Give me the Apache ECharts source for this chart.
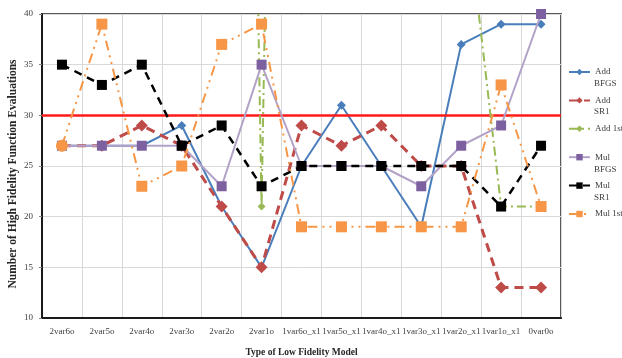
<!DOCTYPE html>
<html><head><meta charset="utf-8">
<script src="https://cdn.jsdelivr.net/npm/echarts@6/dist/echarts.min.js"></script>
<style>html,body{margin:0;padding:0;background:#fff}#c{width:622px;height:358px}</style>
</head><body><div id="c"></div>
<script>
const categories = ['2var6o','2var5o','2var4o','2var3o','2var2o','2var1o','1var6o_x1','1var5o_x1','1var4o_x1','1var3o_x1','1var2o_x1','1var1o_x1','0var0o'];
const addBFGS = [27,27,27,29,21,15,25,31,25,19,37,39,39];
const addSR1  = [27,27,29,27,21,15,29,27,29,25,25,13,13];
const add1st  = [60,60,60,60,250,21,250,60,60,60,55,21,21];
const mulBFGS = [27,27,27,27,23,35,25,25,25,23,27,29,40];
const mulSR1  = [35,33,35,27,29,23,25,25,25,25,25,21,27];
const mul1st  = [27,39,23,25,37,39,19,19,19,19,19,33,21];
const threshold = 30;
const yTicks = {min:10, max:40, interval:5};

const FONT = 'Liberation Serif';
const legendFirst = {'Add BFGS':'Add','Add SR1':'Add','Add 1st':'Add 1st','Mul BFGS':'Mul','Mul SR1':'Mul','Mul 1st':'Mul 1st'};
const T = (text, left, top) => ({type:'text',left,top,style:{text,fontFamily:FONT,fontSize:9,fill:'#404040'}});

const chart = echarts.init(document.getElementById('c'), null, {renderer:'canvas'});
chart.setOption({
  animation:false,
  grid:{left:42,right:61,top:14,bottom:40,show:true,borderColor:'#595959',borderWidth:2,backgroundColor:'transparent',containLabel:false,outerBoundsMode:'none'},
  legend:{
    orient:'vertical', left:568, top:66.5, padding:0, itemWidth:21, itemHeight:8, itemGap:17.4,
    textStyle:{fontFamily:FONT,fontSize:9,lineHeight:11,color:'#404040',overflow:'none'},
    formatter:n=>legendFirst[n],
    data:['Add BFGS','Add SR1','Add 1st','Mul BFGS','Mul SR1','Mul 1st']
  },
  graphic:[
    T('BFGS',594,79.5), T('SR1',594,107.5), T('BFGS',594,165.5), T('SR1',594,193.5),
    {type:'text',x:13,y:174,rotation:Math.PI/2,
     style:{text:'Number of High Fidelity Function Evaluations',fontFamily:FONT,fontSize:11.5,fontWeight:'bold',fill:'#262626',align:'center',verticalAlign:'middle'}}
  ],
  xAxis:{
    type:'category', data:categories, boundaryGap:true,
    name:'Type of Low Fidelity Model', nameLocation:'middle', nameGap:30,
    nameTextStyle:{fontFamily:FONT,fontSize:9.5,fontWeight:'bold',color:'#262626'},
    axisLine:{lineStyle:{color:'#1a1a1a',width:2}},
    axisTick:{show:false},
    axisLabel:{fontFamily:FONT,fontSize:9,color:'#404040',margin:9,interval:0},
    splitLine:{show:true,interval:0,lineStyle:{color:'#d9d9d9',width:1}}
  },
  yAxis:{
    type:'value', min:yTicks.min, max:yTicks.max, interval:yTicks.interval,
    axisLine:{show:true,lineStyle:{color:'#1a1a1a',width:2}},
    axisTick:{show:true,length:3,lineStyle:{color:'#808080'}},
    axisLabel:{fontFamily:FONT,fontSize:9,color:'#404040',margin:9},
    splitLine:{show:true,lineStyle:{color:'#d9d9d9',width:1}}
  },
  series:[
    {name:'Add BFGS',type:'line',data:addBFGS,symbol:'diamond',symbolSize:9,z:3,
     itemStyle:{color:'#4a7ebb'},lineStyle:{color:'#4a7ebb',width:2},
     markLine:{silent:true,symbol:'none',label:{show:false},lineStyle:{color:'#ff1a1a',width:2.5,type:'solid'},data:[{yAxis:threshold}]}},
    {name:'Add SR1',type:'line',data:addSR1,symbol:'diamond',symbolSize:12,z:4,
     itemStyle:{color:'#be4b48'},lineStyle:{color:'#be4b48',width:3,type:[9,6]}},
    {name:'Add 1st',type:'line',data:add1st,symbol:'diamond',symbolSize:8,z:5,
     itemStyle:{color:'#98b954'},lineStyle:{color:'#98b954',width:2,type:[9,4,2,4]}},
    {name:'Mul BFGS',type:'line',data:mulBFGS,symbol:'rect',symbolSize:10,z:6,
     itemStyle:{color:'#7d60a0'},lineStyle:{color:'#b3a2c7',width:2}},
    {name:'Mul SR1',type:'line',data:mulSR1,symbol:'rect',symbolSize:10,z:7,
     itemStyle:{color:'#000000'},lineStyle:{color:'#000000',width:2.5,type:[8,6]}},
    {name:'Mul 1st',type:'line',symbol:'rect',symbolSize:11,z:8,
     data:mul1st.map((v,i)=> i===0 ? {value:v,symbol:'circle',symbolSize:12} : v),
     itemStyle:{color:'#f79646'},lineStyle:{color:'#f79646',width:2,type:[10,5,2,5,2,5]}}
  ]
});
</script></body></html>
